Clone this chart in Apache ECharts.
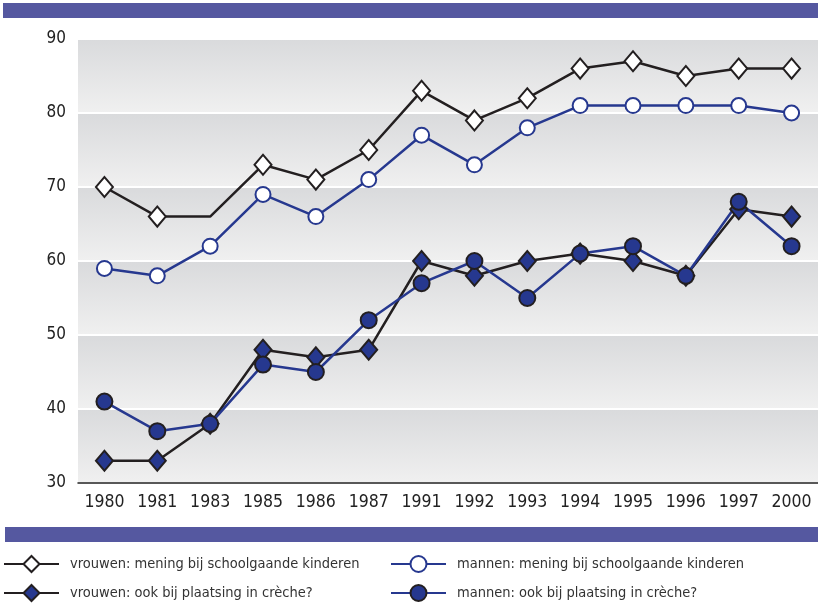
<!DOCTYPE html>
<html><head><meta charset="utf-8">
<script src="https://cdn.jsdelivr.net/npm/echarts@6/dist/echarts.min.js"></script>
<style>html,body{margin:0;padding:0;background:#fff}#c{width:818px;height:603px}</style>
</head><body><div id="c"></div>
<script>
const years = ['1980','1981','1983','1985','1986','1987','1991','1992','1993','1994','1995','1996','1997','2000'];
const vrouwenMening = [70,66,66,73,71,75,83,79,82,86,87,85,86,86];
const mannenMening = [59,58,62,69,66,71,77,73,78,81,81,81,81,80];
const vrouwenCreche = [33,33,38,48,47,48,60,58,60,61,60,58,67,66];
const mannenCreche = [41,37,38,46,45,52,57,60,55,61,62,58,68,62];
const names = ['vrouwen: mening bij schoolgaande kinderen','mannen: mening bij schoolgaande kinderen','vrouwen: ook bij plaatsing in crèche?','mannen: ook bij plaatsing in crèche?'];
const FONT = '"Liberation Sans Narrow","DejaVu Sans Condensed","Roboto Condensed",sans-serif';
const BLUE = '#26388f';
const BLACK = '#231f20';
const chart = echarts.init(document.getElementById('c'));
const band = {type:'linear',x:0,y:0,x2:0,y2:1,colorStops:[{offset:0,color:'#d9dadc'},{offset:1,color:'#f0f0f0'}]};
function mk(name, data, o){
  return {name, type:'line', data, symbolSize:o.size, symbol:o.symbol,
    lineStyle:{color:o.line,width:2.5}, itemStyle:{color:o.fill,borderColor:o.border,borderWidth:2},
    emphasis:{disabled:true}, animation:false};
}
const s1 = mk(names[0], vrouwenMening.map((v,i)=> i===2 ? {value:v, symbol:'none'} : v), {symbol:'diamond',size:[17,20],line:BLACK,fill:'#fff',border:BLACK});
const s2 = mk(names[1], mannenMening, {symbol:'circle',size:15,line:BLUE,fill:'#fff',border:BLUE});
const s3 = mk(names[2], vrouwenCreche, {symbol:'diamond',size:[17,20],line:BLACK,fill:BLUE,border:BLACK});
const s4 = mk(names[3], mannenCreche, {symbol:'circle',size:16,line:BLUE,fill:BLUE,border:BLACK});
function leg(name, left, top){
  return {data:[name], left, top, padding:0, orient:'horizontal', itemWidth:55, itemHeight:20, selectedMode:false,
    textStyle:{fontFamily:FONT, fontSize:14.5, color:'#333', padding:[0,0,0,6]}};
}
chart.setOption({
  animation:false,
  grid:{left:78, right:0, top:39, bottom:120},
  xAxis:{type:'category', data:years, boundaryGap:true,
    axisLine:{lineStyle:{color:'#222',width:1.5}},
    axisTick:{alignWithLabel:true, length:7, lineStyle:{color:'#222',width:1.5}},
    axisLabel:{fontFamily:FONT, fontSize:17.5, color:'#222', margin:10}},
  yAxis:{type:'value', min:30, max:90, interval:10,
    axisLine:{show:false}, axisTick:{show:false},
    axisLabel:{fontFamily:FONT, fontSize:17, color:'#222', margin:12},
    splitLine:{show:true, lineStyle:{color:'#ffffff', width:2}},
    splitArea:{show:true, areaStyle:{color:[band]}}},
  legend:[leg(names[0],3,555), leg(names[2],3,584), leg(names[1],390,555), leg(names[3],390,584)],
  graphic:[
    {type:'rect', shape:{x:3,y:3,width:815,height:15}, style:{fill:'#5558a0'}},
    {type:'rect', shape:{x:5,y:527,width:813,height:15}, style:{fill:'#5558a0'}}
  ],
  series:[s1,s2,s3,s4]
});
</script></body></html>
